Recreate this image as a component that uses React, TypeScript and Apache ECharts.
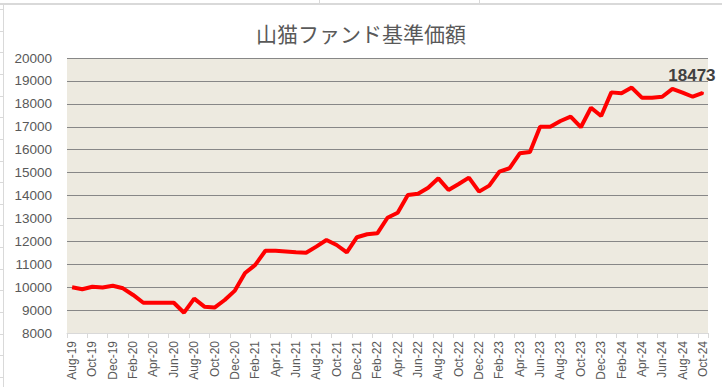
import React, { useEffect, useRef } from "react";
import * as echarts from "echarts";

const title = "山猫ファンド基準価額";

const categories: string[] = [
  "Aug-19", "Sep-19", "Oct-19", "Nov-19", "Dec-19",
  "Jan-20", "Feb-20", "Mar-20", "Apr-20", "May-20", "Jun-20", "Jul-20", "Aug-20", "Sep-20", "Oct-20", "Nov-20", "Dec-20",
  "Jan-21", "Feb-21", "Mar-21", "Apr-21", "May-21", "Jun-21", "Jul-21", "Aug-21", "Sep-21", "Oct-21", "Nov-21", "Dec-21",
  "Jan-22", "Feb-22", "Mar-22", "Apr-22", "May-22", "Jun-22", "Jul-22", "Aug-22", "Sep-22", "Oct-22", "Nov-22", "Dec-22",
  "Jan-23", "Feb-23", "Mar-23", "Apr-23", "May-23", "Jun-23", "Jul-23", "Aug-23", "Sep-23", "Oct-23", "Nov-23", "Dec-23",
  "Jan-24", "Feb-24", "Mar-24", "Apr-24", "May-24", "Jun-24", "Jul-24", "Aug-24", "Sep-24", "Oct-24",
];

const navValues: number[] = [
  9995, 9910, 10020, 9985, 10060, 9950, 9660, 9320, 9320, 9320, 9320, 8886, 9500, 9150, 9110, 9440, 9850,
  10620, 10970, 11590, 11590, 11560, 11520, 11500, 11770, 12060, 11840, 11520,
  12180, 12310, 12350, 13030, 13250, 14020, 14080, 14340, 14750, 14240, 14500, 14780,
  14170, 14430, 15040, 15190, 15840, 15900, 17000, 17000, 17250, 17440, 16980, 17830,
  17470, 18500, 18460, 18710, 18270, 18270, 18310, 18650, 18490, 18310, 18473,
];

const yMin = 8000;
const yMax = 20000;
const yStep = 1000;

export default function App() {
  const ref = useRef<HTMLDivElement>(null);
  useEffect(() => {
    if (!ref.current) return;
    const chart = echarts.init(ref.current, null, { renderer: "svg" });
    const last = navValues.length - 1;
    const data = navValues.map((v, i) =>
      i === last
        ? {
            value: v,
            symbol: "circle",
            symbolSize: 2,
            label: {
              show: true,
              position: "top",
              offset: [-11, -3],
              formatter: "{c}",
              fontSize: 17,
              fontWeight: "bold",
              color: "#404040",
              fontFamily: "Liberation Sans, Arial, sans-serif",
            },
          }
        : { value: v, symbol: "none" }
    );
    const gridColor = "#D9D9D9";
    const sheetLines: any[] = [
      { type: "line", shape: { x1: 0, y1: 4, x2: 722, y2: 4 }, style: { stroke: gridColor, lineWidth: 2 }, silent: true },
      { type: "line", shape: { x1: 3.5, y1: 4, x2: 3.5, y2: 387 }, style: { stroke: gridColor, lineWidth: 1 }, silent: true },
      { type: "line", shape: { x1: 319.5, y1: 0, x2: 319.5, y2: 4 }, style: { stroke: gridColor, lineWidth: 1 }, silent: true },
      { type: "line", shape: { x1: 479.5, y1: 0, x2: 479.5, y2: 4 }, style: { stroke: gridColor, lineWidth: 1 }, silent: true },
    ];
    for (let k = 0; k < 18; k++) {
      const y = Math.round(377 - 21.65 * k) + 0.5;
      sheetLines.push({
        type: "line",
        shape: { x1: 0, y1: y, x2: 3, y2: y },
        style: { stroke: gridColor, lineWidth: 1 },
        silent: true,
      });
    }
    chart.setOption({
      animation: false,
      backgroundColor: "#FFFFFF",
      title: {
        text: title,
        left: "center",
        top: 17,
        textStyle: {
          fontFamily: "Noto Sans CJK JP",
          fontWeight: "normal",
          fontSize: 21,
          color: "#595959",
        },
      },
      graphic: sheetLines,
      grid: {
        left: 67,
        right: 14,
        top: 58,
        bottom: 54,
        show: true,
        backgroundColor: "#EDEAE0",
        borderWidth: 0,
      },
      xAxis: {
        type: "category",
        data: categories,
        boundaryGap: true,
        axisLine: { show: true, lineStyle: { color: "#D9D9D9", width: 1 } },
        axisTick: { show: true, interval: 1, length: 5, lineStyle: { color: "#D9D9D9" } },
        axisLabel: {
          interval: 1,
          rotate: 90,
          margin: 8,
          fontSize: 12,
          color: "#595959",
          fontFamily: "Liberation Sans, Arial, sans-serif",
        },
        splitLine: { show: false },
      },
      yAxis: {
        type: "value",
        min: yMin,
        max: yMax,
        interval: yStep,
        axisLine: { show: false },
        axisTick: { show: false },
        axisLabel: {
          margin: 15,
          fontSize: 13.5,
          color: "#595959",
          fontFamily: "Liberation Sans, Arial, sans-serif",
          formatter: (v: number) => String(v),
        },
        splitLine: { show: true, showMinLine: false, lineStyle: { color: "#878787", width: 1 } },
      },
      series: [
        {
          type: "line",
          data,
          showSymbol: true,
          showAllSymbol: true,
          symbol: "circle",
          symbolSize: 2,
          lineStyle: { color: "#FF0000", width: 4 },
          itemStyle: { color: "#FF0000" },
        },
      ],
    });
    return () => chart.dispose();
  }, []);
  return <div ref={ref} style={{ width: 722, height: 387, position: "absolute", left: 0, top: 0 }} />;
}
